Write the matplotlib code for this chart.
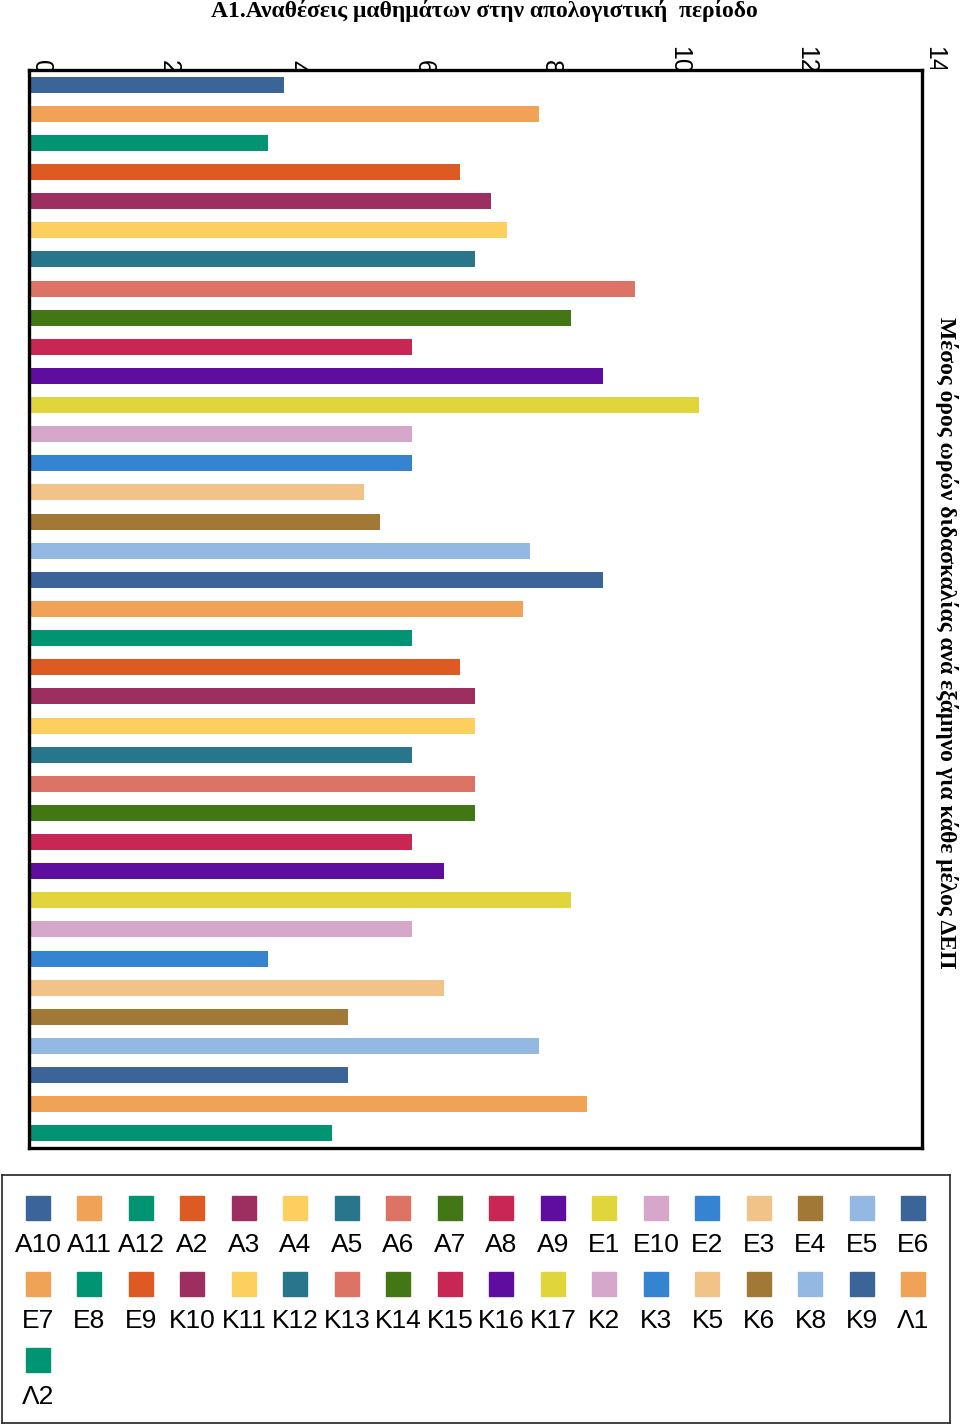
import matplotlib.pyplot as plt
from matplotlib.patches import Rectangle
from matplotlib.transforms import Bbox, TransformedBbox

# dati
members = ['A10', 'A11', 'A12', 'A2', 'A3', 'A4', 'A5', 'A6', 'A7', 'A8', 'A9',
           'E1', 'E10', 'E2', 'E3', 'E4', 'E5', 'E6', 'E7', 'E8', 'E9',
           'K10', 'K11', 'K12', 'K13', 'K14', 'K15', 'K16', 'K17',
           'K2', 'K3', 'K5', 'K6', 'K8', 'K9', 'Λ1', 'Λ2']
hours = [4.0, 8.0, 3.75, 6.75, 7.25, 7.5, 7.0, 9.5, 8.5, 6.0, 9.0,
         10.5, 6.0, 6.0, 5.25, 5.5, 7.85, 9.0, 7.75, 6.0, 6.75,
         7.0, 7.0, 6.0, 7.0, 7.0, 6.0, 6.5, 8.5,
         6.0, 3.75, 6.5, 5.0, 8.0, 5.0, 8.75, 4.75]
palette = ['#3B6498', '#F0A257', '#009473', '#DD5B22', '#9C2F60', '#FDCF5F',
           '#27768B', '#DC7365', '#437716', '#C82653', '#5E0D9E', '#E0D63C',
           '#D7A6CB', '#3584D1', '#F2C389', '#A27837', '#93B9E2']
xticks = [0, 2, 4, 6, 8, 10, 12, 14]

title = 'A1.Αναθέσεις μαθημάτων στην απολογιστική  περίοδο'
axis_title = 'Μέσος όρος ωρών διδασκαλίας ανά εξάμηνο για κάθε μέλος ΔΕΠ'

colors = [palette[i % len(palette)] for i in range(len(members))]

W, H = 960, 1428
fig = plt.figure(figsize=(W / 100, H / 100), dpi=100)

# --- grafico principale ---
ax = fig.add_axes([29 / W, 1 - 1148 / H, (922 - 29) / W, (1148 - 70) / H])
ypos = list(range(len(members)))
ax.barh(ypos, hours, height=0.55, color=colors)
ax.set_xlim(0, 14)
ax.set_ylim(len(members) - 0.5, -0.5)
ax.set_yticks([])
ax.xaxis.tick_top()
ax.set_xticks(xticks)
ax.set_xticklabels([str(t) for t in xticks], rotation=-90, fontsize=18,
                   family='Liberation Sans', ha='left', va='bottom')
ax.tick_params(axis='x', length=0, pad=-3)
for s in ax.spines.values():
    s.set_linewidth(2.4)
    s.set_color('black')

# etichette tagliate dal bordo superiore
clip = TransformedBbox(Bbox([[0, 1 - 69 / H], [1, 1]]), fig.transFigure)
for lbl in ax.get_xticklabels():
    lbl.set_clip_box(clip)
    lbl.set_clip_on(True)

fig.text(484 / W, 1 - 11 / H, title, ha='center', va='center',
         fontsize=17, fontweight='bold', family='Liberation Serif')
fig.text(946 / W, 1 - 643 / H, axis_title, ha='center', va='center',
         rotation=-90, fontsize=17, fontweight='bold', family='Liberation Serif')

# --- legenda ---
lx0, ly0, lx1, ly1 = 2, 1175, 950, 1423
lax = fig.add_axes([lx0 / W, 1 - ly1 / H, (lx1 - lx0) / W, (ly1 - ly0) / H])
lax.set_xlim(0, lx1 - lx0)
lax.set_ylim(ly1 - ly0, 0)
lax.set_xticks([])
lax.set_yticks([])
for s in lax.spines.values():
    s.set_linewidth(1.2)
    s.set_color('#222222')

ncol = 18
for i, (m, c) in enumerate(zip(members, colors)):
    r, k = divmod(i, ncol)
    cx = 36 + k * 51.5
    top = 21 + r * 76
    lax.add_patch(Rectangle((cx - 12, top), 24, 24, color=c))
    lax.text(cx, top + 49, m, ha='center', va='center', fontsize=19,
             family='Liberation Sans')

fig.savefig('out.png', dpi=100)
